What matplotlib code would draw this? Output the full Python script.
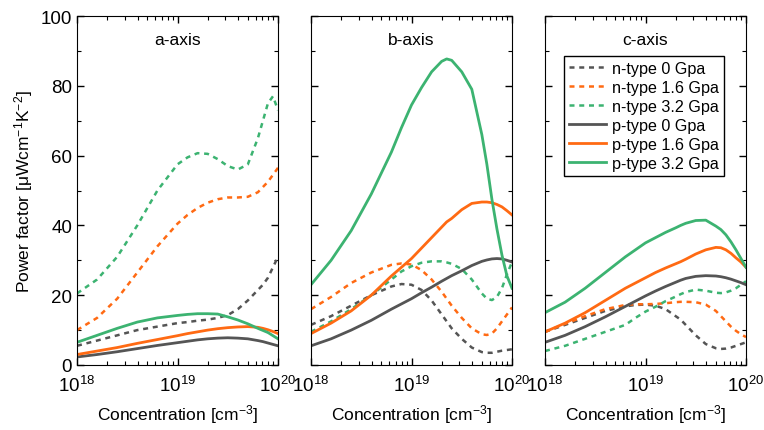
import numpy as np
import matplotlib
matplotlib.use('Agg')
import matplotlib.pyplot as plt
from matplotlib.ticker import LogFormatterMathtext, MultipleLocator, LogLocator

plt.rcParams['font.family'] = ['Liberation Sans', 'DejaVu Sans']
plt.rcParams['mathtext.fontset'] = 'custom'
plt.rcParams['mathtext.rm'] = 'Liberation Sans'
plt.rcParams['mathtext.it'] = 'Liberation Sans:italic'
plt.rcParams['mathtext.default'] = 'regular'

# log10 of concentration
exp_a = [18.0, 18.2, 18.4, 18.6, 18.8, 19.0, 19.1, 19.2, 19.3, 19.4, 19.5, 19.6, 19.7, 19.8, 19.85, 19.9, 19.95, 20.0]
exp_bc = [18.0, 18.2, 18.4, 18.6, 18.8, 18.9, 19.0, 19.1, 19.2, 19.3, 19.35, 19.4, 19.5, 19.6, 19.7, 19.75, 19.8, 19.85, 19.9, 19.95, 20.0]

# a-axis
n0_a = [5.5, 7, 8.5, 10, 11, 12, 12.3, 12.7, 13, 13.5, 14.3, 16, 18.5, 21.5, 23, 25, 28, 31]
n16_a = [10, 13.5, 19, 26.5, 34, 40.5, 43, 45, 46.5, 47.5, 48, 48, 48.2, 49.5, 51, 52.5, 54.5, 56.5]
n32_a = [20.5, 24.5, 31, 40, 50, 57.5, 59.5, 60.7, 60.5, 59, 57, 56, 57.5, 65, 70, 75, 77, 73]
p0_a = [2.3, 3, 3.8, 4.7, 5.6, 6.4, 6.8, 7.2, 7.5, 7.7, 7.8, 7.7, 7.5, 7, 6.7, 6.3, 5.9, 5.5]
p16_a = [3, 4, 5, 6.2, 7.3, 8.4, 9, 9.5, 10, 10.4, 10.7, 10.9, 11, 10.8, 10.5, 10.1, 9.6, 9]
p32_a = [6.5, 8.5, 10.5, 12.3, 13.5, 14.2, 14.5, 14.7, 14.7, 14.6, 13.8, 12.9, 11.8, 10.5, 9.9, 9.3, 8.4, 7.5]

# b-axis
n0_b = [11.5, 14, 17, 20, 22.5, 23.2, 23, 21.5, 18.5, 14.5, 12.5, 10.5, 7.5, 5, 3.7, 3.5, 3.5, 3.8, 4.1, 4.3, 4.5]
n16_b = [16, 19.5, 23.5, 26.5, 28.7, 29.1, 28.8, 27.2, 24.5, 21, 19, 17, 13.5, 10.5, 8.8, 8.6, 9, 10.5, 12.5, 14.5, 16.5]
n32_b = [9.5, 12.5, 16, 20, 24.5, 26.8, 28.3, 29.3, 29.7, 29.7, 29.4, 29, 27.5, 24.5, 20.5, 19, 18.6, 19.5, 22, 26, 29.5]
p0_b = [5.5, 7.5, 10, 12.8, 16, 17.5, 19, 20.7, 22.3, 24, 24.8, 25.6, 27, 28.5, 29.7, 30.1, 30.4, 30.5, 30.4, 30, 29.5]
p16_b = [9, 12, 15.5, 20, 25.5, 28, 30.5, 33.5, 36.5, 39.5, 41, 42, 44.5, 46.3, 46.7, 46.7, 46.5, 46, 45.3, 44.2, 43]
p32_b = [23, 30, 38.5, 49, 61, 68, 74.5, 79.5, 84, 87, 87.7, 87.3, 84, 79, 66, 57.5, 47.5, 39, 31.5, 25.5, 22]

# c-axis
n0_c = [9.5, 11.5, 13.5, 15.5, 16.8, 17.2, 17.3, 17, 16, 14, 13, 11.5, 8.5, 6, 4.8, 4.6, 4.7, 5, 5.5, 6, 6.5]
n16_c = [9.5, 11.8, 14, 16, 17.2, 17.4, 17.4, 17.5, 17.7, 18, 18.1, 18.1, 18, 17.3, 15.5, 14, 12.5, 11, 9.8, 8.8, 8]
n32_c = [4, 5.5, 7.5, 9.5, 11.5, 13.5, 15.3, 16.7, 18.3, 19.6, 20.3, 20.9, 21.6, 21.3, 20.7, 20.6, 20.8, 21.3, 22, 23, 24]
p0_c = [6.5, 8.5, 11, 13.8, 16.8, 18.3, 19.8, 21.2, 22.5, 23.7, 24.3, 24.8, 25.4, 25.6, 25.5, 25.3, 25, 24.6, 24.1, 23.6, 23]
p16_c = [9.5, 12, 15, 18.5, 22, 23.5, 25, 26.5, 27.8, 29, 29.6, 30.3, 31.8, 33, 33.7, 33.6, 33, 32, 30.7, 29.5, 28]
p32_c = [15, 18, 22, 26.5, 31, 33, 35, 36.5, 38, 39.3, 40, 40.6, 41.4, 41.5, 39.8, 38.8, 37.3, 35.3, 33, 30.5, 28]

labels = ['n-type 0 Gpa', 'n-type 1.6 Gpa', 'n-type 3.2 Gpa',
          'p-type 0 Gpa', 'p-type 1.6 Gpa', 'p-type 3.2 Gpa']
colors = ['#555555', '#ff6a13', '#3cb371']

panels = [
    ('a-axis', exp_a, [n0_a, n16_a, n32_a], [p0_a, p16_a, p32_a]),
    ('b-axis', exp_bc, [n0_b, n16_b, n32_b], [p0_b, p16_b, p32_b]),
    ('c-axis', exp_bc, [n0_c, n16_c, n32_c], [p0_c, p16_c, p32_c]),
]

fig = plt.figure(figsize=(7.64, 4.31), dpi=100)
lefts = [77, 311, 545]
axes = []
for i, (name, ex, ns, ps) in enumerate(panels):
    ax = fig.add_axes([lefts[i] / 764, 65 / 431, 201 / 764, 349 / 431])
    x = 10.0 ** np.array(ex)
    handles = []
    for k in range(3):
        h, = ax.plot(x, ns[k], color=colors[k], lw=1.8, dashes=(2.0, 1.9))
        handles.append(h)
    for k in range(3):
        h, = ax.plot(x, ps[k], color=colors[k], lw=2.0)
        handles.append(h)
    ax.set_xscale('log')
    ax.set_xlim(1e18, 1e20)
    ax.set_ylim(0, 100)
    ax.xaxis.set_major_locator(LogLocator(base=10, numticks=5))
    ax.xaxis.set_minor_locator(LogLocator(base=10, subs=np.arange(2, 10), numticks=20))
    ax.xaxis.set_major_formatter(LogFormatterMathtext())
    ax.yaxis.set_major_locator(MultipleLocator(20))
    ax.yaxis.set_minor_locator(MultipleLocator(10))
    ax.tick_params(which='both', direction='in', top=True, right=True, labelsize=13.5)
    ax.tick_params(which='major', length=5, width=1)
    ax.tick_params(which='minor', length=3, width=0.8)
    ax.tick_params(axis='x', pad=7)
    if i > 0:
        ax.set_yticklabels([])
    else:
        ax.set_ylabel('Power factor [$\\mu$Wcm$^{-1}$K$^{-2}$]', fontsize=12.5)
    ax.set_xlabel('Concentration [cm$^{-3}$]', fontsize=12.5, labelpad=5)
    ax.text(0.5, 0.933, name, transform=ax.transAxes, ha='center', va='center', fontsize=12.5)
    axes.append(ax)

leg = axes[2].legend(handles, labels, loc='upper right', bbox_to_anchor=(0.89, 0.885),
                     fontsize=11.6, frameon=True, fancybox=False, framealpha=1,
                     edgecolor='black', handlelength=2.3, handletextpad=0.4,
                     borderpad=0.3, labelspacing=0.25, borderaxespad=0)
leg.get_frame().set_linewidth(1)

fig.savefig('out.png', dpi=100)
